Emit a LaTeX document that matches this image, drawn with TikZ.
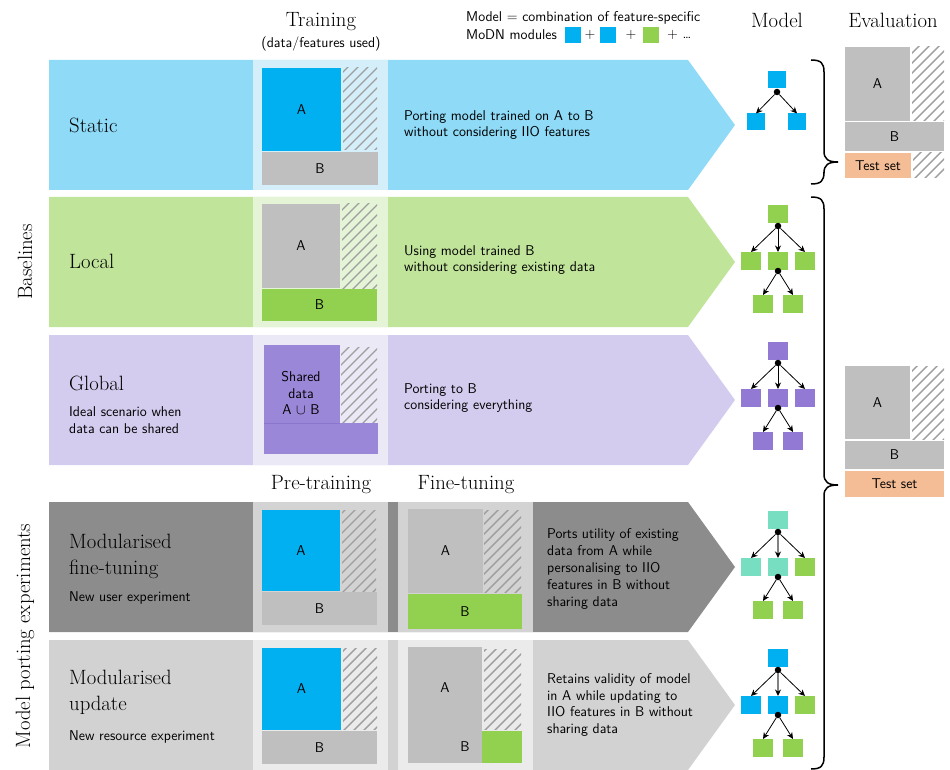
\documentclass[tikz,border=0pt]{standalone}
\usepackage{fontspec}
\usetikzlibrary{arrows.meta}

\definecolor{staticRow}{RGB}{142,218,247}
\definecolor{staticPanel}{RGB}{212,239,250}
\definecolor{modBlue}{RGB}{0,176,240}
\definecolor{dataGrey}{RGB}{191,191,191}
\definecolor{localRow}{RGB}{193,228,155}
\definecolor{localPanel}{RGB}{229,243,214}
\definecolor{modGreen}{RGB}{146,208,80}
\definecolor{globalRow}{RGB}{212,204,238}
\definecolor{globalPanel}{RGB}{236,233,246}
\definecolor{sharedPurple}{RGB}{155,135,215}
\definecolor{sharedEdge}{RGB}{138,118,205}
\definecolor{modPurple}{RGB}{146,122,212}
\definecolor{tuneRow}{RGB}{140,140,140}
\definecolor{tunePanel}{RGB}{211,211,211}
\definecolor{updRow}{RGB}{210,210,210}
\definecolor{updPanel}{RGB}{235,235,235}
\definecolor{modTeal}{RGB}{120,222,194}
\definecolor{testPeach}{RGB}{245,189,150}
\definecolor{hatchGrey}{RGB}{158,158,158}
\definecolor{linkGrey}{RGB}{130,130,130}

\tikzset{
  hd/.style={font=\fontsize{20.7}{26}\selectfont, inner sep=0pt, align=left},
  txt/.style={font=\fontsize{14.2}{16.9}\sffamily, inner sep=0pt, align=left},
  blk/.style={anchor=north west, inner sep=0pt, outer sep=0pt,
              font=\fontsize{14.2}{16.9}\sffamily},
  hatchline/.style={draw=hatchGrey, line width=1.4pt},
  mod/.style={minimum width=20pt, minimum height=18pt, inner sep=0pt, outer sep=0pt},
  joint/.style={circle, fill=black, minimum size=6.5pt, inner sep=0pt},
  link/.style={-{Stealth[length=6.5pt,width=6pt]}, line width=0.8pt},
  greylink/.style={draw=linkGrey, line width=1.8pt,
                   -{Stealth[length=6.5pt,width=6pt,black]}},
  brc/.style={line width=1.5pt},
}

% diagonal hatching of a rectangle (x1,y1)-(x2,y2)
\newcommand\hatchbox[4]{%
  \begin{scope}
    \clip (#1,#2) rectangle (#3,#4);
    \foreach \k in {0,10,...,250}
      \draw[hatchline] ({#1-130+\k},{#4+2}) -- ++(140,-140);
  \end{scope}}

% one experiment row: coloured band ending in a chevron
\newcommand\rowband[3]{%
  \fill[#1] (49,#2) -- (688,#2) -- (735,{(#2+#3)/2}) -- (688,#3) -- (49,#3) -- cycle;}

% curly brace: top, tip and bottom y
\newcommand\curlybrace[3]{%
  \draw[brc] (811,#1) .. controls (821,#1) and (824,{#1+3}) .. (824,{#1+12})
    -- (824,{#2-11}) .. controls (824,{#2-3}) and (828,#2) .. (838,#2)
    .. controls (828,#2) and (824,{#2+3}) .. (824,{#2+11})
    -- (824,{#3-12}) .. controls (824,{#3-3}) and (821,#3) .. (811,#3);}

% module tree with three children and two grandchildren
% #1 name, #2 top y, #3 top colour, #4-#6 children colours,
% #7 style of the middle link, #8 grandchildren colour
\newcommand\modtree[8]{%
  \node[mod, fill=#3] (#1-t) at (778,#2) {};
  \node[joint] (#1-j) at (778,{#2+12}) {};
  \node[mod, fill=#4] (#1-c1) at (751,{#2+47}) {};
  \node[mod, fill=#5] (#1-c2) at (778,{#2+47}) {};
  \node[mod, fill=#6] (#1-c3) at (805,{#2+47}) {};
  \node[joint] (#1-k) at (778,{#2+57}) {};
  \node[mod, fill=#8] (#1-g1) at (763,{#2+90}) {};
  \node[mod, fill=#8] (#1-g2) at (793,{#2+90}) {};
  \draw[link] (#1-j) -- (#1-c1.north);
  \draw[#7] (#1-j) -- (#1-c2.north);
  \draw[link] (#1-j) -- (#1-c3.north);
  \draw[link] (#1-k) -- (#1-g1.north);
  \draw[link] (#1-k) -- (#1-g2.north);}

\begin{document}
\begin{tikzpicture}[x=1pt, y=-1pt]
\useasboundingbox (0,0) rectangle (950,770);

% ---------- column headers and legend ----------
\node[hd] (h-train) at (321,22) {Training};
\node[txt] (h-data) at (321,44) {(data/features used)};
\node[hd] (h-model) at (777,20) {Model};
\node[hd] (h-eval) at (893,20) {Evaluation};

\node[txt, anchor=west] (leg-1) at (466,18) {Model = combination of feature-specific};
\node[txt, anchor=west] (leg-2) at (466,35) {MoDN modules};
\node[mod, fill=modBlue, minimum width=16pt, minimum height=16pt] (leg-m1) at (573,35) {};
\node[txt] (leg-p1) at (590,35) {+};
\node[mod, fill=modBlue, minimum width=16pt, minimum height=16pt] (leg-m2) at (608,35) {};
\node[txt] (leg-p2) at (631,35) {+};
\node[mod, fill=modGreen, minimum width=16pt, minimum height=16pt] (leg-m3) at (651,35) {};
\node[txt, anchor=west] (leg-p3) at (667,35) {+ \dots};

% ---------- group labels ----------
\node[hd, rotate=90] (g-base) at (25,262) {Baselines};
\node[hd, rotate=90] (g-port) at (25,636) {Model porting experiments};

% ---------- Static ----------
\rowband{staticRow}{60}{190}
\fill[staticPanel] (253,60) rectangle (388,190);
\node[blk, fill=modBlue, minimum width=79pt, minimum height=83pt] (s-a) at (262,68) {A};
\hatchbox{343}{68}{377}{150}
\node[blk, fill=dataGrey, minimum width=116pt, minimum height=33pt] (s-b) at (262,152) {B};
\node[hd, anchor=west] (s-title) at (69,125) {Static};
\node[txt, anchor=west] (s-desc) at (404,125) {Porting model trained on A to B\\without considering IIO features};

% ---------- Local ----------
\rowband{localRow}{197}{327}
\fill[localPanel] (253,197) rectangle (388,327);
\node[blk, fill=dataGrey, minimum width=78pt, minimum height=84pt] (l-a) at (262,204) {A};
\hatchbox{342}{204}{377}{288}
\node[blk, fill=modGreen, minimum width=115pt, minimum height=32pt] (l-b) at (262,289) {B};
\node[hd, anchor=west] (l-title) at (69,261) {Local};
\node[txt, anchor=west] (l-desc) at (404,260) {Using model trained B\\without considering existing data};

% ---------- Global ----------
\rowband{globalRow}{335}{465}
\fill[globalPanel] (253,335) rectangle (388,465);
\fill[sharedPurple] (264,345) rectangle (340,423);
\hatchbox{341}{347}{377}{423}
\fill[sharedPurple] (264,423) rectangle (378,454);
\draw[sharedEdge, line width=0.6pt] (264,423) -- (340,423);
\node[txt, align=center] (g-shared) at (301,393) {Shared\\data\\A $\cup$ B};
\node[hd, anchor=west] (g-title) at (69,383) {Global};
\node[txt, anchor=west] (g-sub) at (69,420.5) {Ideal scenario when\\data can be shared};
\node[txt, anchor=west] (g-desc) at (404,398) {Porting to B\\considering everything};

% ---------- stage headers ----------
\node[hd] (h-pre) at (321,485) {Pre-training};
\node[hd] (h-fine) at (466,485) {Fine-tuning};

% ---------- Modularised fine-tuning ----------
\rowband{tuneRow}{502}{632}
\fill[tunePanel] (253,502) rectangle (388,632);
\fill[tunePanel] (398,502) rectangle (533,632);
\node[blk, fill=modBlue, minimum width=78pt, minimum height=81pt] (f-pa) at (262,510) {A};
\hatchbox{342}{510}{376}{591}
\node[blk, fill=dataGrey, minimum width=115pt, minimum height=33pt] (f-pb) at (262,592) {B};
\node[blk, fill=dataGrey, minimum width=75pt, minimum height=84pt] (f-fa) at (408,509) {A};
\hatchbox{484}{510}{521}{592}
\node[blk, fill=modGreen, minimum width=114pt, minimum height=35pt] (f-fb) at (408,594) {B};
\node[hd, anchor=west] (f-title) at (69,556) {Modularised\\fine-tuning};
\node[txt, anchor=west] (f-sub) at (69,598) {New user experiment};
\node[txt, anchor=west] (f-desc) at (547,569) {Ports utility of existing\\data from A while\\personalising to IIO\\features in B without\\sharing data};

% ---------- Modularised update ----------
\rowband{updRow}{640}{770}
\fill[updPanel] (253,640) rectangle (388,770);
\fill[updPanel] (398,640) rectangle (533,770);
\node[blk, fill=modBlue, minimum width=79pt, minimum height=82pt] (u-pa) at (262,648) {A};
\hatchbox{343}{648}{377}{729}
\node[blk, fill=dataGrey, minimum width=115pt, minimum height=33pt] (u-pb) at (262,731) {B};
\fill[dataGrey] (408,647) rectangle (482,763);
\hatchbox{484}{649}{521}{729}
\fill[modGreen] (482,731) rectangle (522,763);
\node[txt] (u-fa) at (445,688) {A};
\node[txt] (u-fb) at (465,747) {B};
\node[hd, anchor=west] (u-title) at (69,692) {Modularised\\update};
\node[txt, anchor=west] (u-sub) at (69,737) {New resource experiment};
\node[txt, anchor=west] (u-desc) at (547,705) {Retains validity of model\\in A while updating to\\IIO features in B without\\sharing data};

% ---------- model trees ----------
\node[mod, fill=modBlue, minimum width=18pt, minimum height=17pt] (st-t) at (777,80) {};
\node[joint] (st-j) at (777,92) {};
\node[mod, fill=modBlue, minimum width=18pt, minimum height=17pt] (st-c1) at (756,122) {};
\node[mod, fill=modBlue, minimum width=18pt, minimum height=17pt] (st-c2) at (797,122) {};
\draw[link] (st-j) -- (st-c1.north);
\draw[link] (st-j) -- (st-c2.north);

\modtree{lt}{214}{modGreen}{modGreen}{modGreen}{modGreen}{link}{modGreen}
\modtree{gt}{351}{modPurple}{modPurple}{modPurple}{modPurple}{link}{modPurple}
\modtree{ft}{520}{modTeal}{modTeal}{modTeal}{modGreen}{greylink}{modGreen}
\modtree{ut}{658}{modBlue}{modBlue}{modBlue}{modGreen}{greylink}{modGreen}

% ---------- evaluation ----------
\curlybrace{60}{162}{184}
\curlybrace{197}{485}{769}

\node[blk, fill=dataGrey, minimum width=65pt, minimum height=74pt] (e1-a) at (845,47) {A};
\hatchbox{912}{47}{944}{121}
\node[blk, fill=dataGrey, minimum width=99pt, minimum height=29pt] (e1-b) at (845,122) {B};
\node[blk, fill=testPeach, minimum width=66pt, minimum height=25pt] (e1-t) at (845,153) {Test set};
\hatchbox{913}{153}{944}{178}

\node[blk, fill=dataGrey, minimum width=65pt, minimum height=73pt] (e2-a) at (845,366) {A};
\hatchbox{912}{366}{944}{439}
\node[blk, fill=dataGrey, minimum width=99pt, minimum height=28pt] (e2-b) at (845,441) {B};
\node[blk, fill=testPeach, minimum width=99pt, minimum height=26pt] (e2-t) at (845,471) {Test set};
\end{tikzpicture}
\end{document}
